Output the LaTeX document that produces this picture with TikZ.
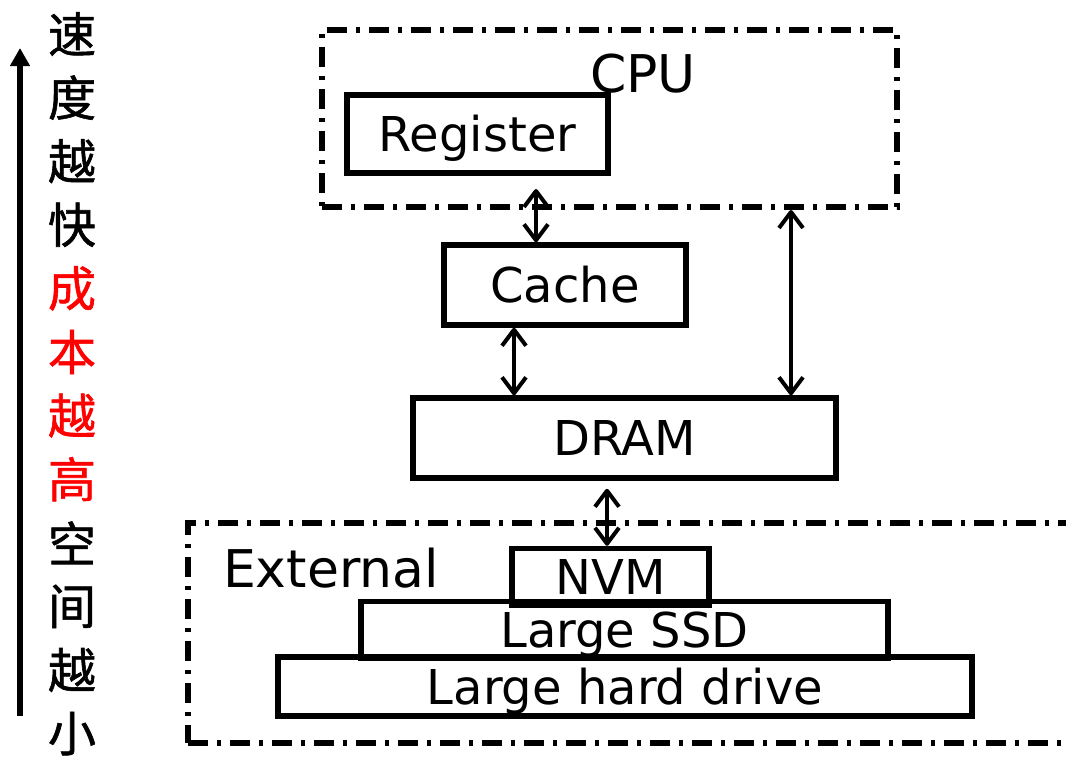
\documentclass[tikz,border=0pt]{standalone}
\usepackage{fontspec}
\setmainfont{DejaVu Sans}
\newfontfamily\cjk[FakeBold=1.2]{Noto Sans CJK SC}
\usetikzlibrary{arrows.meta}
\begin{document}
\begin{tikzpicture}[x=1pt,y=-1pt,
  box/.style={draw, line width=5.5pt, inner sep=0pt, text height=46pt, text depth=11pt, font=\fontsize{48}{56}\selectfont},
  frame/.style={draw, line width=6pt, inner sep=0pt, dash pattern=on 20pt off 9pt on 4pt off 9pt},
  biarrow/.style={line width=4pt, line cap=round, {Straight Barb[length=16pt,width=24pt,line join=round]}-{Straight Barb[length=16pt,width=24pt,line join=round]}},
  cjkchar/.style={font=\cjk\fontsize{48}{52}\selectfont, inner sep=0pt},
  biglabel/.style={font=\fontsize{52}{60}\selectfont, inner sep=0pt}
]
\useasboundingbox (0,0) rectangle (1066,758);
\clip (0,0) rectangle (1066,758);
\fill[white] (0,0) rectangle (1066,758);

% speed arrow
\coordinate (ab) at (20,716);
\coordinate (at) at (20,48);
\draw[line width=5.5pt, -{Triangle[length=18pt,width=19pt]}] (ab) -- (at);

% vertical Chinese text
\foreach \c/\col [count=\i from 0] in {速/black,度/black,越/black,快/black,成/red,本/red,越/red,高/red,空/black,间/black,越/black,小/black}{
  \node[cjkchar, text=\col] (ch\i) at (72,{34+63.6*\i}) {\c};
}

% CPU frame
\node[frame, minimum width=575pt, minimum height=177pt] (cpu) at (609.5,118.5) {};
\node[biglabel] (cpulbl) at (643,74) {CPU};
\node[box, minimum width=261pt, minimum height=78pt] (reg) at (477.5,134) {Register};

% Cache and DRAM
\node[box, minimum width=242pt, minimum height=80pt] (cache) at (565,285) {Cache};
\node[box, minimum width=423pt, minimum height=80pt] (dram) at (624.5,438) {DRAM};

% External frame
\node[frame, minimum width=902pt, minimum height=220pt] (ext) at (639,633) {};
\node[biglabel] (extlbl) at (331,568) {External};
\node[box, minimum width=527pt, minimum height=52pt] (ssd) at (624.5,630) {Large SSD};
\node[box, minimum width=694pt, minimum height=59pt] (hdd) at (625,686.5) {Large hard drive};
\node[box, minimum width=197pt, minimum height=52pt] (nvm) at (610.5,577) {NVM};

% connectors
\coordinate (x1) at (536,189);
\coordinate (x2) at (514,0);
\coordinate (x3) at (791,0);
\coordinate (x4) at (607,0);
\draw[biarrow] (x1) -- (cache.north -| x1);
\draw[biarrow] (cache.south -| x2) -- (dram.north -| x2);
\draw[biarrow] (cpu.south -| x3) -- (dram.north -| x3);
\draw[biarrow, shorten <=8pt] (dram.south -| x4) -- (nvm.north -| x4);
\end{tikzpicture}
\end{document}
